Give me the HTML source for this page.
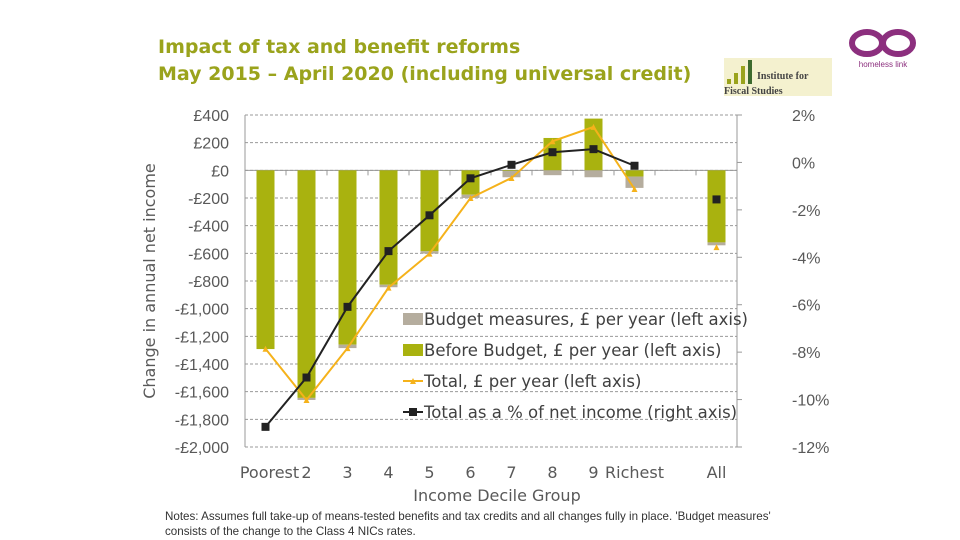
<!DOCTYPE html>
<html><head><meta charset="utf-8"><style>
body{margin:0;background:#fff;width:960px;height:540px;overflow:hidden;font-family:"Liberation Sans","DejaVu Sans",sans-serif}
svg{display:block}
</style></head><body>
<svg width="960" height="540" font-family="Liberation Sans, DejaVu Sans, sans-serif">
<text x="158" y="53" font-size="19" font-family="DejaVu Sans, sans-serif" font-weight="bold" fill="#9aa31c">Impact of tax and benefit reforms</text>
<text x="158" y="80" font-size="19" font-family="DejaVu Sans, sans-serif" font-weight="bold" fill="#9aa31c">May 2015 – April 2020 (including universal credit)</text>
<g>
<rect x="724" y="58" width="108" height="38" fill="#f4f1cf"/>
<rect x="727" y="79" width="4" height="5" fill="#9aa31c"/><rect x="734" y="73" width="4" height="11" fill="#9aa31c"/><rect x="741" y="66" width="4" height="18" fill="#9aa31c"/><rect x="748" y="60" width="4" height="24" fill="#3d6b2e"/>
<text x="757" y="79" font-size="10" font-family="Liberation Serif, serif" font-weight="bold" fill="#444">Institute for</text>
<text x="724" y="94" font-size="10" font-family="Liberation Serif, serif" font-weight="bold" fill="#444">Fiscal Studies</text>
</g>
<g>
<ellipse cx="867" cy="43" rx="15" ry="11" fill="none" stroke="#8c2f7e" stroke-width="6"/>
<ellipse cx="898" cy="43" rx="15" ry="11" fill="none" stroke="#8c2f7e" stroke-width="6"/>
<text x="883" y="67" font-size="8" fill="#8c2f7e" text-anchor="middle">homeless link</text>
</g>
<g id="plot"></g>
<text transform="translate(155,281) rotate(-90)" font-size="16" font-family="DejaVu Sans, sans-serif" fill="#595959" text-anchor="middle">Change in annual net income</text>
<text x="497" y="501" font-size="16" font-family="DejaVu Sans, sans-serif" fill="#595959" text-anchor="middle">Income Decile Group</text>
<text x="165" y="520" font-size="11.6" fill="#333">Notes: Assumes full take-up of means-tested benefits and tax credits and all changes fully in place. 'Budget measures'</text>
<text x="165" y="535" font-size="11.6" fill="#333">consists of the change to the Class 4 NICs rates.</text>
</svg>
<script>
const categories=["Poorest","2","3","4","5","6","7","8","9","Richest","All"];
const slots=[0,1,2,3,4,5,6,7,8,9,11];
const beforeBudget=[-1292,-1645,-1260,-827,-585,-176,-5,234,374,-45,-521];
const budgetMeasures=[0,-15,-25,-18,-17,-24,-45,-35,-50,-82,-21];
const totalPounds=[-1290,-1660,-1285,-848,-602,-200,-55,210,314,-135,-555];
const totalPct=[-11.15,-9.07,-6.09,-3.74,-2.23,-0.67,-0.1,0.43,0.56,-0.14,-1.56];
const leftTicks=[400,200,0,-200,-400,-600,-800,-1000,-1200,-1400,-1600,-1800,-2000];
const leftLabels=["£400","£200","£0","-£200","-£400","-£600","-£800","-£1,000","-£1,200","-£1,400","-£1,600","-£1,800","-£2,000"];
const rightTicks=[2,0,-2,-4,-6,-8,-10,-12];
const rightLabels=["2%","0%","-2%","-4%","-6%","-8%","-10%","-12%"];

const NS="http://www.w3.org/2000/svg";
const g=document.getElementById('plot');
const X0=245,X1=737,SW=(X1-X0)/12;
const yL=v=>115+(400-v)/2400*332;
const yR=v=>115+(2-v)/14*332;
const xC=i=>X0+SW*(i+0.5);
function el(t,a,p){const e=document.createElementNS(NS,t);for(const k in a)e.setAttribute(k,a[k]);(p||g).appendChild(e);return e;}
leftTicks.forEach((v,i)=>{
 const gl=el('line',{x1:X0,x2:X1,y1:yL(v),y2:yL(v),stroke:'#999','stroke-dasharray':'3,2','stroke-width':1});
 
 
 const t=el('text',{x:229,y:yL(v)+6,'font-size':16,fill:'#595959','text-anchor':'end'});t.textContent=leftLabels[i];
 
 
});
rightTicks.forEach((v,i)=>{
 el('line',{x1:X1,x2:X1+5,y1:yR(v),y2:yR(v),stroke:'#999'});
 const t=el('text',{x:792,y:yR(v)+6,'font-size':16,fill:'#595959'});t.textContent=rightLabels[i];
 
 
});
el('line',{x1:X0,x2:X0,y1:115,y2:447,stroke:'#999'});
el('line',{x1:X1,x2:X1,y1:115,y2:447,stroke:'#999'});
el('line',{x1:X0,x2:X1,y1:yL(0),y2:yL(0),stroke:'#999'});
for(let i=0;i<=12;i++)el('line',{x1:X0+SW*i,x2:X0+SW*i,y1:yL(0),y2:yL(0)+5,stroke:'#999'});
categories.forEach((c,k)=>{
 const i=slots[k],x=xC(i),bw=18;
 const b=beforeBudget[k],m=budgetMeasures[k];
 const y1=yL(Math.max(b,0)),y2=yL(Math.min(b,0));
 const r=el('rect',{x:x-bw/2,y:y1,width:bw,height:Math.max(0,y2-y1),fill:'#a9b20f'});
 
 
 const base=Math.min(b,0);
 const r2=el('rect',{x:x-bw/2,y:yL(base),width:bw,height:yL(base+m)-yL(base),fill:'#b5ad9e'});
 
 
 const t=el('text',{x:(k==0?x+4:x),y:478,'font-size':16,'font-family':'DejaVu Sans, sans-serif',fill:'#595959','text-anchor':'middle'});t.textContent=c;
 
 
});
const n=10;
const pY=totalPounds.slice(0,n).map((v,k)=>xC(slots[k])+','+yL(v)).join(' ');
const ly=el('polyline',{points:pY,fill:'none',stroke:'#f5b21b','stroke-width':2});


const pB=totalPct.slice(0,n).map((v,k)=>xC(slots[k])+','+yR(v)).join(' ');
const lb=el('polyline',{points:pB,fill:'none',stroke:'#222','stroke-width':2});


totalPounds.forEach((v,k)=>{const x=xC(slots[k]),y=yL(v);
 const p=el('polygon',{points:`${x-3},${y+3} ${x+3},${y+3} ${x},${y-3}`,fill:'#f5b21b'});
 
 });
totalPct.forEach((v,k)=>{const x=xC(slots[k]),y=yR(v);
 const p=el('rect',{x:x-4,y:y-4,width:8,height:8,fill:'#222'});
 
 });
const legend=[["Budget measures, £ per year (left axis)",'sw','#b5ad9e'],["Before Budget, £ per year (left axis)",'sw','#a9b20f'],["Total, £ per year (left axis)",'tri','#f5b21b'],["Total as a % of net income (right axis)",'sq','#222']];
legend.forEach((L,i)=>{const y=319+i*31;
 if(L[1]=='sw')el('rect',{x:403,y:y-6,width:20,height:12,fill:L[2]});
 else{el('line',{x1:403,x2:423,y1:y,y2:y,stroke:L[2],'stroke-width':2});
  if(L[1]=='tri')el('polygon',{points:`410,${y+3} 416,${y+3} 413,${y-3}`,fill:L[2]});
  else el('rect',{x:409,y:y-4,width:8,height:8,fill:L[2]});}
 const t=el('text',{x:424,y:y+6,'font-size':16.5,'font-family':'DejaVu Sans, sans-serif',fill:'#404040'});t.textContent=L[0];
 
 
});
</script>
</body></html>
